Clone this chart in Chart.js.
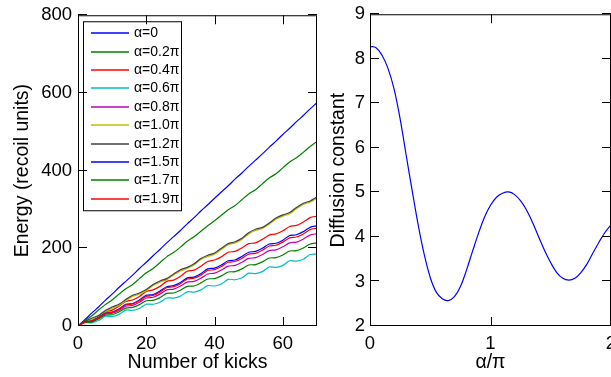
<!DOCTYPE html>
<html>
<head>
<meta charset="utf-8">
<script src="https://cdn.jsdelivr.net/npm/chart.js@4.4.0/dist/chart.umd.min.js"></script>
<style>
  html, body { margin: 0; padding: 0; background: #fff; overflow: hidden; }
  #wrap { position: relative; width: 611px; height: 377px; overflow: hidden; }
  #energyChart { position: absolute; left: 0; top: 0; }
  #diffChart { position: absolute; left: 320px; top: 0; }
</style>
</head>
<body>
<div id="wrap">
  <canvas id="energyChart" width="320" height="377"></canvas>
  <canvas id="diffChart" width="320" height="377"></canvas>
</div>
<script>
const FONT = "'Liberation Sans', Arial, Helvetica, sans-serif";

// energy vs number of kicks, one series per kick phase alpha
const kicks = [0,2,4,6,8,10,12,14,16,18,20,22,24,26,28,30,32,34,36,38,40,42,44,46,48,50,52,54,56,58,60,62,64,66,68,70];
const energyA00 = [0,16,33,49,66,82,99,115,131,148,164,181,197,214,230,246,263,279,296,312,329,345,361,378,394,411,427,443,460,476,493,509,526,542,559,575];
const energyA02 = [0,14,26,41,55,67,82,96,107,122,137,148,163,178,189,203,218,230,244,258,271,285,299,310,325,340,351,366,381,392,407,422,433,447,462,475];
const energyA04 = [0,12,15,25,37,41,51,63,67,76,89,93,102,115,118,128,141,144,154,166,170,178,190,192,201,212,214,223,234,237,245,256,259,268,279,283];
const energyA06 = [0,9,8,14,25,24,30,41,40,45,56,56,61,72,72,77,88,87,93,104,103,108,120,119,124,136,135,140,152,151,156,168,167,172,184,185];
const energyA08 = [0,10,12,20,31,33,40,51,53,61,72,74,82,93,95,103,113,115,123,134,136,144,154,156,164,174,176,184,194,196,204,214,216,224,234,238];
const energyA10 = [0,10,17,24,37,46,53,65,76,82,91,104,113,119,131,142,148,157,171,179,185,197,209,214,223,237,246,251,262,275,283,289,302,313,319,329];
const energyA12 = [0,12,20,27,40,49,56,68,79,85,94,107,116,122,134,145,151,160,174,182,188,200,212,217,226,240,249,254,265,278,286,292,305,316,322,332];
const energyA15 = [0,11,13,22,33,36,44,56,58,67,79,81,90,101,104,112,124,126,135,147,149,157,168,170,179,190,192,200,211,213,221,233,235,243,254,258];
const energyA17 = [0,9,10,18,28,29,36,46,48,55,65,66,73,84,85,92,102,103,111,121,122,129,139,140,147,157,158,165,175,176,183,193,194,201,211,214];
const energyA19 = [0,10,13,21,32,35,43,54,57,65,76,79,87,99,101,109,121,123,131,143,145,153,164,166,174,185,187,195,206,208,216,227,229,237,248,252];

const seriesLabels = ['α=0','α=0.2π','α=0.4π','α=0.6π','α=0.8π','α=1.0π','α=1.2π','α=1.5π','α=1.7π','α=1.9π'];
const seriesColors = ['#0000ff','#008000','#ff0000','#00bfbf','#bf00bf','#bfbf00','#404040','#0000ff','#008000','#ff0000'];
const energySeries = [energyA00, energyA02, energyA04, energyA06, energyA08, energyA10, energyA12, energyA15, energyA17, energyA19];
const kickTicks = [0,20,40,60];
const energyTicks = [0,200,400,600,800];

// diffusion constant vs alpha/pi
const alphaOverPi = [0,0.05,0.1,0.15,0.2,0.25,0.3,0.35,0.4,0.45,0.5,0.55,0.6,0.65,0.7,0.75,0.8,0.85,0.9,0.95,1,1.05,1.1,1.15,1.2,1.25,1.3,1.35,1.4,1.45,1.5,1.55,1.6,1.65,1.7,1.75,1.8,1.85,1.9,1.95,2];
const diffusion = [8.28,8.25,8.08,7.78,7.32,6.65,5.84,5.04,4.27,3.61,3.09,2.76,2.61,2.57,2.66,2.88,3.25,3.67,4.08,4.44,4.71,4.89,4.98,5.01,4.95,4.81,4.60,4.32,4.00,3.69,3.42,3.20,3.07,3.03,3.07,3.20,3.39,3.64,3.88,4.10,4.27];
const alphaTicks = [0,1,2];
const diffTicks = [2,3,4,5,6,7,8,9];

// box around the plot area with inward tick marks on all four sides
const frameTicks = {
  id: 'frameTicks',
  afterDraw(chart) {
    const { ctx, chartArea: a, scales: { x, y } } = chart;
    const len = 9;
    ctx.save();
    ctx.strokeStyle = '#000';
    ctx.lineWidth = 1;
    ctx.beginPath();
    x.ticks.forEach(t => {
      const px = Math.round(x.getPixelForValue(t.value)) + 0.5;
      ctx.moveTo(px, a.bottom); ctx.lineTo(px, a.bottom - len);
      ctx.moveTo(px, a.top); ctx.lineTo(px, a.top + len);
    });
    y.ticks.forEach(t => {
      const py = Math.round(y.getPixelForValue(t.value)) - 0.5;
      ctx.moveTo(a.left, py); ctx.lineTo(a.left + len, py);
      ctx.moveTo(a.right, py); ctx.lineTo(a.right - len, py);
    });
    ctx.stroke();
    ctx.strokeRect(a.left + 0.5, a.top + 0.5, a.width - 1, a.height - 1);
    ctx.restore();
  }
};

// legend box in the upper left corner of the energy plot
const insetLegend = {
  id: 'insetLegend',
  afterDatasetsDraw(chart) {
    const { ctx, chartArea: a } = chart;
    const x0 = a.left + 5, y0 = a.top + 6, w = 98, h = 189;
    ctx.save();
    ctx.fillStyle = '#fff';
    ctx.fillRect(x0, y0, w, h);
    ctx.strokeStyle = '#000';
    ctx.lineWidth = 1;
    ctx.strokeRect(x0 + 0.5, y0 + 0.5, w, h);
    ctx.font = '14px ' + FONT;
    ctx.textBaseline = 'middle';
    chart.data.datasets.forEach((ds, i) => {
      const ry = Math.round(y0 + 12 + i * 18.4);
      ctx.strokeStyle = ds.borderColor;
      ctx.lineWidth = 1.3;
      ctx.beginPath();
      ctx.moveTo(x0 + 8, ry);
      ctx.lineTo(x0 + 46, ry);
      ctx.stroke();
      ctx.fillStyle = '#000';
      ctx.fillText(ds.label, x0 + 51, ry);
    });
    ctx.restore();
  }
};

function axis(min, max, tickValues, title, fit) {
  return {
    type: 'linear',
    min: min,
    max: max,
    afterBuildTicks: s => { s.ticks = tickValues.map(v => ({ value: v })); },
    afterFit: fit,
    grid: { display: false, drawTicks: false },
    border: { display: false },
    ticks: { color: '#000', font: { family: FONT, size: 18.5, lineHeight: 1 }, maxRotation: 0, autoSkip: false },
    title: { display: true, text: title, color: '#000', font: { family: FONT, size: 19.5, lineHeight: 1.2 } }
  };
}

const energyDatasets = energySeries.map((vals, i) => ({
  label: seriesLabels[i],
  data: kicks.map((k, j) => ({ x: k, y: vals[j] })),
  borderColor: seriesColors[i],
  borderWidth: 1.2,
  pointRadius: 0,
  tension: 0.3,
  order: -i
}));

const energyX = axis(0, 70, kickTicks, 'Number of kicks', s => { s.height = 51; });
energyX.ticks.padding = 9;
energyX.title.padding = { top: 0, bottom: 3 };
const energyY = axis(0, 800, energyTicks, 'Energy (recoil units)', s => { s.width = 78; });
energyY.ticks.padding = 6;
energyY.title.padding = { top: 11, bottom: 0 };

new Chart(document.getElementById('energyChart'), {
  type: 'line',
  data: { datasets: energyDatasets },
  options: {
    responsive: false,
    animation: false,
    layout: { padding: { top: 10, right: 3, bottom: 0, left: 0 } },
    plugins: { legend: { display: false }, tooltip: { enabled: false } },
    scales: { x: energyX, y: energyY }
  },
  plugins: [insetLegend, frameTicks]
});

const diffX = axis(0, 2, alphaTicks, 'α/π', s => { s.height = 51; });
diffX.ticks.padding = 9;
diffX.title.padding = { top: 0, bottom: 3 };
const diffY = axis(2, 9, diffTicks, 'Diffusion constant', s => { s.width = 50; });
diffY.ticks.padding = 5;
diffY.title.padding = { top: 7, bottom: 0 };

new Chart(document.getElementById('diffChart'), {
  type: 'line',
  data: {
    datasets: [{
      label: 'D',
      data: alphaOverPi.map((a, i) => ({ x: a, y: diffusion[i] })),
      borderColor: '#0000ff',
      borderWidth: 1.2,
      pointRadius: 0,
      tension: 0.4
    }]
  },
  options: {
    responsive: false,
    animation: false,
    layout: { padding: { top: 10, right: 29, bottom: 0, left: 0 } },
    plugins: { legend: { display: false }, tooltip: { enabled: false } },
    scales: { x: diffX, y: diffY }
  },
  plugins: [frameTicks]
});
</script>
</body>
</html>
